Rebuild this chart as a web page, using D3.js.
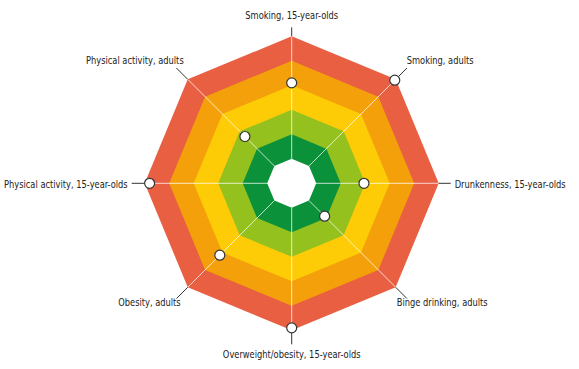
<!DOCTYPE html>
<html>
<head>
<meta charset="utf-8">
<script src="https://cdn.jsdelivr.net/npm/d3@7"></script>
<style>
  body { margin: 0; background: #fff; }
  text { font-family: "DejaVu Sans Condensed", "DejaVu Sans", sans-serif; font-size: 11px; fill: #222; }
</style>
</head>
<body>
<div id="chart"></div>
<script>
// axes, clockwise from the top
const indicators = [
	"Smoking, 15-year-olds",
	"Smoking, adults",
	"Drunkenness, 15-year-olds",
	"Binge drinking, adults",
	"Overweight/obesity, 15-year-olds",
	"Obesity, adults",
	"Physical activity, 15-year-olds",
	"Physical activity, adults",
];
// position of each indicator on the 0-6 scale
const scores = [4.1, 5.95, 2.95, 1.9, 5.9, 4.15, 5.8, 2.7];
// band levels, outer to inner
const bandLevels = [6, 5, 4, 3, 2, 1];
const bandColors = ["#e95f42", "#f4a00b", "#fecb07", "#95c11f", "#0b9139", "#ffffff"];

const width = 579;
const height = 369;
const cx = 291.7;
const cy = 183.3;

const svg = d3
	.select("#chart")
	.append("svg")
	.attr("width", width)
	.attr("height", height);

const g = svg.append("g").attr("transform", `translate(${cx}, ${cy})`);

const r = d3.scaleLinear().domain([0, 6]).range([0, 147]);
// one spoke every 45 degrees, starting at 12 o'clock
const step = (2 * Math.PI) / indicators.length;
const ang = (i) => i * step;

const octagon = d3
	.lineRadial()
	.angle((d, i) => ang(i))
	.radius((d) => r(d))
	.curve(d3.curveLinearClosed);

// bands
g.selectAll("path.band")
	.data(bandLevels)
	.enter()
	.append("path")
	.attr("class", "band")
	.attr("d", (lvl) => octagon(indicators.map(() => lvl)))
	.attr("fill", (d, i) => bandColors[i]);

// spokes: pale inside, dark beyond the octagon
const px = (i, rad) => rad * Math.sin(ang(i));
const py = (i, rad) => -rad * Math.cos(ang(i));

g.selectAll("line.spoke")
	.data(indicators)
	.enter()
	.append("line")
	.attr("class", "spoke")
	.attr("x1", (d, i) => px(i, r(1)))
	.attr("y1", (d, i) => py(i, r(1)))
	.attr("x2", (d, i) => px(i, r(6)))
	.attr("y2", (d, i) => py(i, r(6)))
	.attr("stroke", "#ffffff")
	.attr("stroke-opacity", 0.75)
	.attr("stroke-width", 1);

// how far each leader line sticks out past the octagon
const tickLen = [9, 16, 12, 16, 14, 16, 13, 16];

g.selectAll("line.tick")
	.data(indicators)
	.enter()
	.append("line")
	.attr("class", "tick")
	.attr("x1", (d, i) => px(i, r(6)))
	.attr("y1", (d, i) => py(i, r(6)))
	.attr("x2", (d, i) => px(i, r(6) + tickLen[i]))
	.attr("y2", (d, i) => py(i, r(6) + tickLen[i]))
	.attr("stroke", "#333")
	.attr("stroke-width", 1);

// markers
g.selectAll("circle.score")
	.data(scores)
	.enter()
	.append("circle")
	.attr("class", "score")
	.attr("cx", (d, i) => px(i, r(d)))
	.attr("cy", (d, i) => py(i, r(d)))
	.attr("r", 5)
	.attr("fill", "#fff")
	.attr("stroke", "#333")
	.attr("stroke-width", 1.2);

// labels: offset from the centre and anchor per slot
const labelSlots = [
	[0, -168.5, "middle"],
	[115, -123, "start"],
	[163, 1, "start"],
	[105, 119, "start"],
	[0, 171, "middle"],
	[-111, 119, "end"],
	[-164, 1, "end"],
	[-108, -123, "end"],
];
// the original face is a condensed one, squeeze horizontally
const squeeze = 0.84;

g.selectAll("text.label")
	.data(indicators)
	.enter()
	.append("text")
	.attr("class", "label")
	.attr("transform", (d, i) => `translate(${labelSlots[i][0]}, ${labelSlots[i][1]}) scale(${squeeze}, 1)`)
	.attr("dy", "0.35em")
	.attr("text-anchor", (d, i) => labelSlots[i][2])
	.text((d) => d);
</script>
</body>
</html>
